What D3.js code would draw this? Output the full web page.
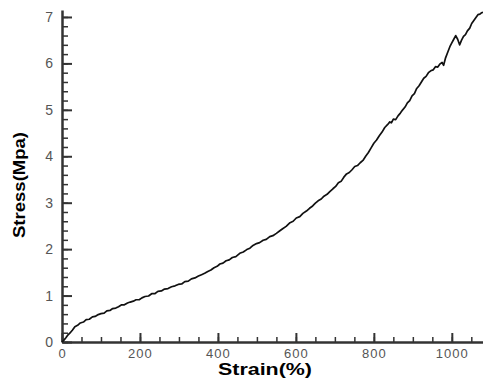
<!DOCTYPE html>
<html>
<head>
<meta charset="utf-8">
<script src="https://cdn.jsdelivr.net/npm/d3@7"></script>
<style>
body { margin:0; background:#fff; }
.tick text { font-family: Arial, "Liberation Sans", sans-serif; fill:#555; }
</style>
</head>
<body>
<svg></svg>
<script>
// strain (%) readings
var strain = [0,5,10,15,20,27,33,40,47,55,62,70,78,85,93,100,108,115,123,130,138,145,153,160,168,175,183,190,198,205,
  213,222,230,238,246,255,263,272,281,290,298,307,315,324,332,341,350,358,366,374,382,390,398,405,413,421,429,437,446,456,
  465,474,482,490,499,507,516,524,533,541,550,558,566,575,585,593,601,610,618,627,635,643,650,657,665,672,680,687,695,702,
  709,716,723,730,737,744,751,758,765,772,779,786,793,800,807,814,821,828,835,841,845,850,856,862,868,874,880,886,892,898,
  904,910,916,922,928,934,940,946,952,958,964,970,975,979,984,990,995,1000,1005,1010,1015,1020,1025,1030,1035,1040,1046,1051,1056,1061,
  1067,1072,1076,1080]
// stress (Mpa)
var stress = [0,0.04,0.09,0.15,0.19,0.26,0.33,0.36,0.41,0.43,0.48,0.49,0.54,0.55,0.59,0.61,0.62,0.67,0.68,0.72,0.73,0.76,0.80,0.80,0.84,0.86,0.88,0.91,0.91,0.95,
  0.98,0.99,1.04,1.04,1.09,1.10,1.14,1.15,1.19,1.21,1.24,1.25,1.30,1.31,1.36,1.38,1.42,1.45,1.48,1.52,1.55,1.60,1.63,1.68,1.70,1.75,1.77,1.82,1.84,1.91,
  1.94,1.99,2.02,2.08,2.12,2.14,2.19,2.21,2.27,2.29,2.34,2.39,2.44,2.49,2.57,2.60,2.67,2.70,2.77,2.82,2.88,2.93,2.99,3.04,3.08,3.14,3.18,3.24,3.30,3.35,
  3.43,3.46,3.55,3.62,3.65,3.71,3.78,3.80,3.86,3.91,4.00,4.08,4.18,4.28,4.35,4.44,4.52,4.62,4.68,4.74,4.72,4.80,4.79,4.87,4.93,5.00,5.06,5.15,5.20,5.30,
  5.35,5.46,5.52,5.60,5.68,5.72,5.80,5.84,5.86,5.93,5.92,5.99,6.02,5.96,6.12,6.25,6.36,6.44,6.52,6.60,6.52,6.40,6.50,6.58,6.62,6.70,6.76,6.86,6.92,6.98,
  7.05,7.06,7.09,7.10]

var xTicks = [0,200,400,600,800,1000]
var yTicks = [0,1,2,3,4,5,6,7]

var screen = {width:483,height:380}

var svg = d3.select("svg")
  .attr("width",screen.width)
  .attr("height",screen.height)

var xScale = d3.scaleLinear()
  .domain([0,1080])
  .range([62,483])

var yScale = d3.scaleLinear()
  .domain([0,7.15])
  .range([342,10])

// minor ticks
svg.append("g")
  .attr("transform","translate(0,342)")
  .call(d3.axisBottom(xScale).tickValues(d3.range(0,1081,50)).tickSize(-5).tickFormat(""))
  .call(function(g){ g.select(".domain").remove() })
  .selectAll("line").attr("stroke","#333").attr("stroke-width",1.5)

svg.append("g")
  .attr("transform","translate(62,0)")
  .call(d3.axisLeft(yScale).tickValues(d3.range(0,36).map(function(d){return d*0.2})).tickSize(-6).tickFormat(""))
  .call(function(g){ g.select(".domain").remove() })
  .selectAll("line").attr("stroke","#333").attr("stroke-width",1.5)

// major ticks + labels
var xAxis = svg.append("g")
  .attr("transform","translate(0,342)")
  .call(d3.axisBottom(xScale).tickValues(xTicks).tickFormat(d3.format("d"))
        .tickSizeInner(-9).tickSizeOuter(0).tickPadding(7))
xAxis.select(".domain").attr("stroke","#333").attr("stroke-width",2.5)
xAxis.selectAll("line").attr("stroke","#333").attr("stroke-width",2)
xAxis.selectAll("text").attr("font-size",13).attr("letter-spacing",1)

var yAxis = svg.append("g")
  .attr("transform","translate(62,0)")
  .call(d3.axisLeft(yScale).tickValues(yTicks).tickFormat(d3.format("d"))
        .tickSizeInner(-10).tickSizeOuter(0).tickPadding(9))
yAxis.select(".domain").attr("stroke","#333").attr("stroke-width",2.5)
yAxis.selectAll("line").attr("stroke","#333").attr("stroke-width",2)
yAxis.selectAll("text").attr("font-size",14)

// curve
var line = d3.line()
  .x(function(d){return xScale(d[0])})
  .y(function(d){return yScale(d[1])})

svg.append("path")
  .datum(d3.zip(strain,stress))
  .attr("d",line)
  .attr("fill","none")
  .attr("stroke","#111")
  .attr("stroke-width",1.7)
  .attr("stroke-linejoin","round")

// labels
svg.append("text")
  .text("Strain(%)")
  .attr("x",265)
  .attr("y",375)
  .attr("text-anchor","middle")
  .attr("font-family","Arial, 'Liberation Sans', sans-serif")
  .attr("font-weight","bold")
  .attr("font-size",16)
  .attr("textLength",94)
  .attr("lengthAdjust","spacingAndGlyphs")

svg.append("g")
  .attr("transform","translate(25,185)")
  .append("text")
  .text("Stress(Mpa)")
  .attr("transform","rotate(-90)")
  .attr("text-anchor","middle")
  .attr("font-family","Arial, 'Liberation Sans', sans-serif")
  .attr("font-weight","bold")
  .attr("font-size",16)
  .attr("textLength",106)
  .attr("lengthAdjust","spacingAndGlyphs")
</script>
</body>
</html>
